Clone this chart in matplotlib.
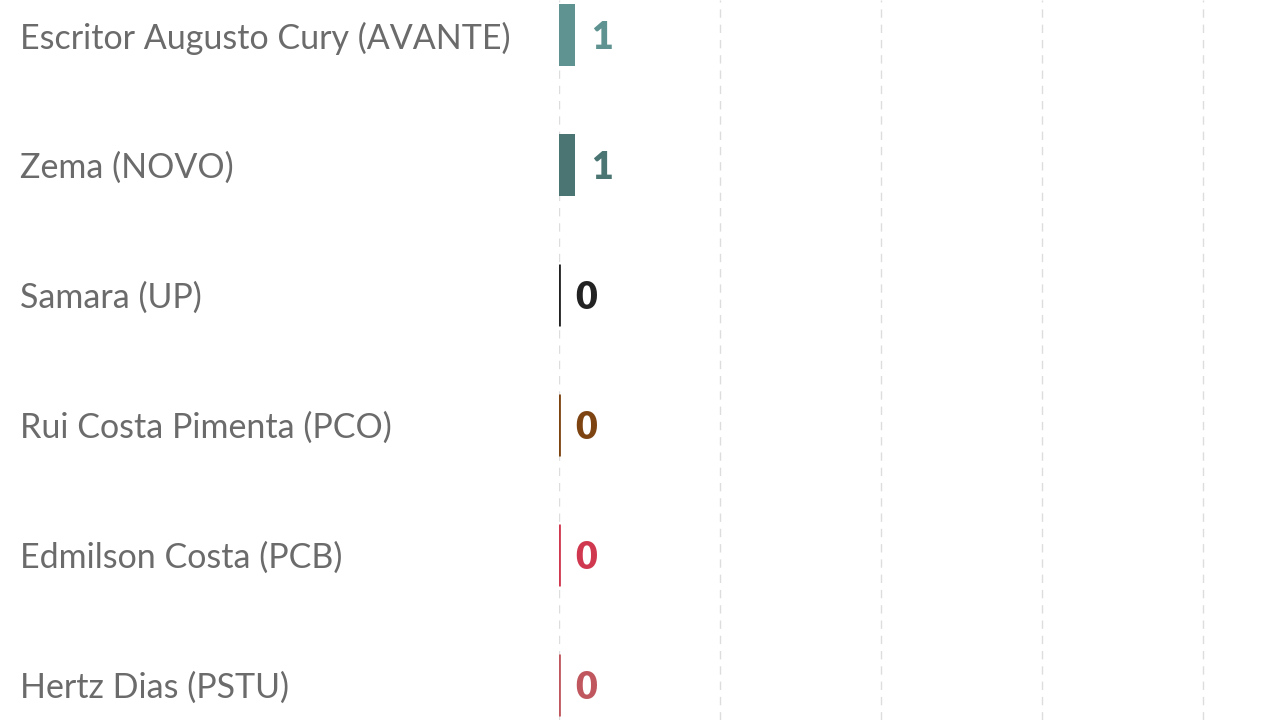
import matplotlib
matplotlib.use("Agg")
import matplotlib.pyplot as plt

# candidate names and vote counts, top to bottom
candidates = [
    "Escritor Augusto Cury (AVANTE)",
    "Zema (NOVO)",
    "Samara (UP)",
    "Rui Costa Pimenta (PCO)",
    "Edmilson Costa (PCB)",
    "Hertz Dias (PSTU)",
]
votes = [1, 1, 0, 0, 0, 0]
bar_colors = ["#5f9392", "#4a7573", "#222222", "#7d4412", "#d0384f", "#c0565e"]
grid_ticks = [0, 10, 20, 30, 40]

plt.rcParams["font.family"] = ["Lato", "DejaVu Sans"]

fig = plt.figure(figsize=(12.8, 7.2), dpi=100)
ax = fig.add_axes([559 / 1280, 0, 1 - 559 / 1280, 1])

ypos = list(range(len(candidates)))
# zero-value bars only show as a thin coloured line, so give them an edge
edge_w = [0 if v else 2.0 for v in votes]
ax.barh(ypos, votes, height=0.48, color=bar_colors, edgecolor=bar_colors,
        linewidth=edge_w, zorder=3)

# value labels next to each bar
for y, v, c in zip(ypos, votes, bar_colors):
    ax.text(v + 1.0, y + 0.02, str(v), va="center", ha="left", fontsize=27,
            fontweight="heavy", color=c)

# candidate names in the left margin
for y, name in zip(ypos, candidates):
    ax.text(20 / 1280, 1 - (38 + 130 * y) / 720, name, transform=fig.transFigure,
            va="center", ha="left", fontsize=24.5, color="#6b6b6b")

ax.set_xlim(0, 44.8)
ax.set_ylim(5.27, -0.27)
ax.set_xticks(grid_ticks)
ax.set_yticks([])
ax.tick_params(axis="x", length=0, labelbottom=False)
ax.grid(axis="x", color="#dddddd", linestyle=(0, (6, 5)), linewidth=1)
ax.set_axisbelow(True)
for s in ax.spines.values():
    s.set_visible(False)

fig.savefig("out.png", dpi=100, facecolor="white")
